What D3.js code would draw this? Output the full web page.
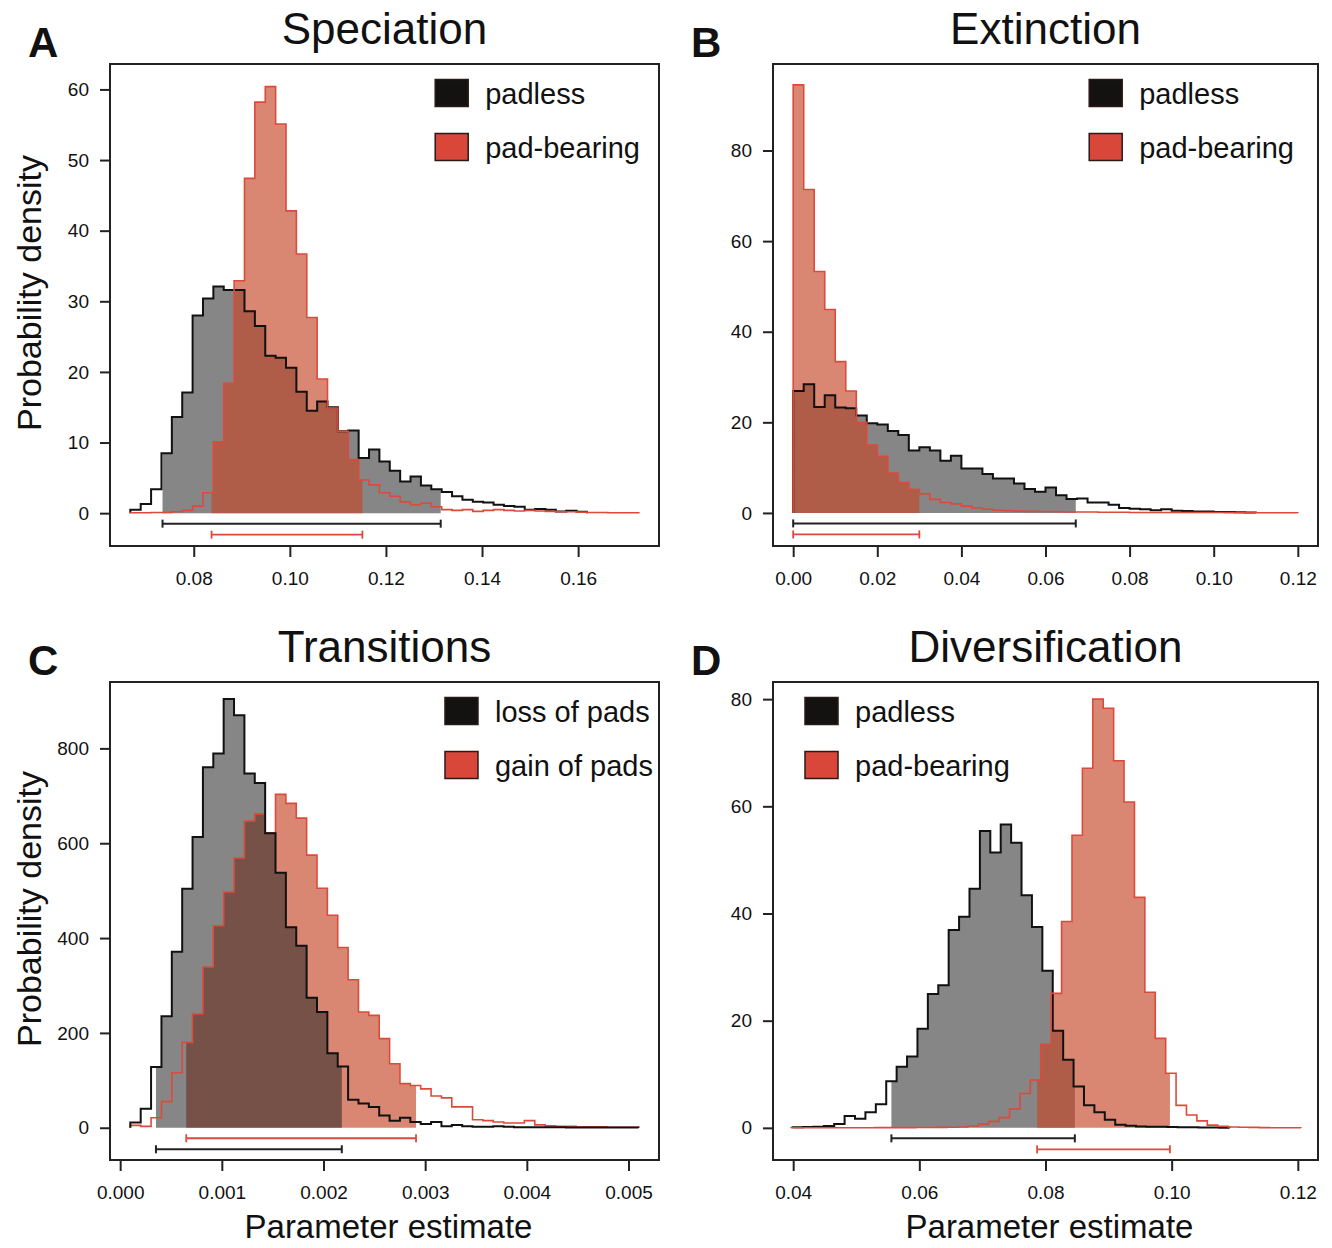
<!DOCTYPE html>
<html>
<head>
<meta charset="utf-8">
<script src="https://cdn.jsdelivr.net/npm/d3@7"></script>
<style>
  body { margin: 0; background: #fff; }
  text { font-family: "Liberation Sans", Arial, sans-serif; fill: #111; }
</style>
</head>
<body>
<svg width="1332" height="1248"></svg>
<script>
// ---- histogram heights (probability density per bin) ----
const specPadless = [0.5, 1.3, 3.4, 8.5, 13.6, 17.1, 28, 30.4, 32.1, 31.6, 31.6, 28.6, 26.5, 22.3, 22, 20.6, 17.2, 14.5, 15.8, 15, 11.6, 11.7, 7.8, 9, 7.3, 6, 4.5, 5.2, 3.9, 3.4, 3.0, 2.4, 1.9, 1.6, 1.5, 1.2, 1.0, 0.9, 0.5, 0.6, 0.5, 0.25, 0.35, 0.2];
const specPadBearing = [0.05, 0.05, 0.1, 0.1, 0.2, 0.4, 1.0, 2.9, 10.1, 18.4, 32.9, 47.4, 58.2, 60.4, 55.1, 42.8, 36.7, 27.7, 19.0, 14.9, 11.6, 7.6, 4.7, 4.0, 2.9, 2.4, 1.6, 1.2, 1.4, 0.9, 0.5, 0.4, 0.5, 0.25, 0.4, 0.5, 0.4, 0.3, 0.4, 0.3, 0.25, 0.2, 0.2, 0.15, 0.1, 0.1, 0.05, 0.05, 0.05];

const extPadless = [26.9, 28.4, 23.4, 26, 23.3, 23.1, 21.5, 19.8, 19.5, 18.1, 17.2, 13.8, 14.5, 13.8, 11.5, 12.6, 9.8, 9.8, 8.6, 7.6, 7.6, 6.5, 5.3, 4.7, 5.6, 3.9, 3.1, 3.2, 2.3, 2.3, 1.8, 1.1, 0.9, 0.8, 0.6, 0.8, 0.5, 0.4, 0.3, 0.3, 0.2, 0.2, 0.15, 0.1];
const extPadBearing = [94.5, 71.4, 53.3, 44.9, 33.4, 26.9, 20, 15, 12.5, 8.8, 6.7, 5.2, 4.2, 3.0, 2.3, 2.0, 1.5, 1.1, 0.8, 0.6, 0.5, 0.4, 0.35, 0.3, 0.3, 0.25, 0.2, 0.2, 0.2, 0.15, 0.15, 0.15, 0.1, 0.1, 0.1, 0.1, 0.1, 0.1, 0.08, 0.08, 0.08, 0.06, 0.06, 0.05, 0.05, 0.05, 0.04, 0.04];

const transLoss = [11, 40, 128, 235, 371, 504, 613, 760, 789, 904, 870, 747, 727, 621, 538, 423, 384, 274, 244, 157, 129, 59, 51, 44, 26, 15, 21, 12, 8, 12, 3, 6, 3, 2, 2, 3, 2, 1, 1, 1, 1, 1, 0.5, 0.5, 0.5, 0.5, 0.5, 0.5, 0.5];
const transGain = [5, 3, 21, 55, 116, 180, 240, 339, 426, 497, 569, 647, 662, 622, 703, 684, 653, 575, 505, 448, 380, 312, 244, 237, 188, 135, 93, 89, 82, 67, 63, 44, 44, 17, 15, 12, 10, 10, 15, 6, 4, 3, 3, 2, 2, 2, 1, 1, 1];

const divPadless = [0.1, 0.15, 0.2, 0.35, 0.7, 2.2, 1.7, 2.9, 4.4, 8.7, 11.4, 13.3, 18.5, 25, 26.6, 36.9, 39.4, 44.6, 55.4, 51.4, 56.6, 53.2, 43.4, 37.5, 29.3, 18.1, 12.7, 7.7, 4.2, 2.9, 1.5, 0.6, 0.4, 0.25, 0.2, 0.2, 0.15, 0.12, 0.1, 0.08, 0.05, 0.03];
const divPadBearing = [0.02, 0.02, 0.02, 0.02, 0.02, 0.03, 0.03, 0.03, 0.04, 0.04, 0.05, 0.05, 0.06, 0.07, 0.08, 0.1, 0.15, 0.35, 0.7, 1.2, 1.9, 3.5, 6.4, 8.9, 15.6, 25.1, 38.5, 54.6, 67.1, 80, 78.3, 68.5, 60.8, 43, 25.3, 16.7, 10.2, 4.2, 2.4, 1.3, 0.5, 0.3, 0.15, 0.1, 0.08, 0.05, 0.03, 0.02, 0.02];

// bin start / bin width of each histogram
const specBins = { padless: [0.0668, 0.00216], padBearing: [0.0668, 0.00216] };
const extBins = { padless: [0, 0.0025], padBearing: [0, 0.0025] };
const transBins = { loss: [0.0001, 0.000102], gain: [0.0001, 0.000102] };
const divBins = { padless: [0.0399, 0.00165], padBearing: [0.03965, 0.00165] };

// 95% HPD intervals
const specHPD = { padless: [0.0735, 0.1314], padBearing: [0.0837, 0.1151] };
const extHPD = { padless: [0, 0.0672], padBearing: [0, 0.0300] };
const transHPD = { loss: [0.000352, 0.00218], gain: [0.00065, 0.00291] };
const divHPD = { padless: [0.05557, 0.08465], padBearing: [0.07867, 0.09973] };

// axis ticks
const specXTicks = [0.08, 0.10, 0.12, 0.14, 0.16], specYTicks = [0, 10, 20, 30, 40, 50, 60];
const extXTicks = [0, 0.02, 0.04, 0.06, 0.08, 0.10, 0.12], extYTicks = [0, 20, 40, 60, 80];
const transXTicks = [0, 0.001, 0.002, 0.003, 0.004, 0.005], transYTicks = [0, 200, 400, 600, 800];
const divXTicks = [0.04, 0.06, 0.08, 0.10, 0.12], divYTicks = [0, 20, 40, 60, 80];

const titles = ["Speciation", "Extinction", "Transitions", "Diversification"];
const letters = ["A", "B", "C", "D"];
const legendStates = ["padless", "pad-bearing"];
const legendTransitions = ["loss of pads", "gain of pads"];

// ---- styling ----
const grayFill = "rgba(40,40,40,0.56)",
  redFill = "rgba(197,71,40,0.65)",
  blackLine = "#111",
  redLine = "#dd4a3c",
  swatch = ["#141111", "#d8473a"];

const svg = d3.select("svg");
svg.append("rect").attr("width", 1332).attr("height", 1248).attr("fill", "#fff");

const rowTop = { top: 64, bottom: 546 }, rowBot = { top: 682, bottom: 1160 };
const colLeft = { left: 110, right: 659 }, colRight = { left: 773, right: 1318 };

const series = (heights, bins, hpd, kind) => ({ heights, start: bins[0], width: bins[1], hpd, kind });

const panels = [
  {
    box: { ...colLeft, ...rowTop }, xRange: [0.0668, 0.1726], yDomain: [-4.65, 63.6],
    xTicks: specXTicks, yTicks: specYTicks, fmt: ".2f",
    s: [series(specPadless, specBins.padless, specHPD.padless, 0), series(specPadBearing, specBins.padBearing, specHPD.padBearing, 1)],
    legend: legendStates, legendSide: "right", legendInset: 19, fillOrder: [0, 1], barOrder: [0, 1], ylab: true, xlab: false
  },
  {
    box: { ...colRight, ...rowTop }, xRange: [0, 0.12], yDomain: [-7.3, 99.1],
    xTicks: extXTicks, yTicks: extYTicks, fmt: ".2f",
    s: [series(extPadless, extBins.padless, extHPD.padless, 0), series(extPadBearing, extBins.padBearing, extHPD.padBearing, 1)],
    legend: legendStates, legendSide: "right", legendInset: 24, fillOrder: [0, 1], barOrder: [0, 1], ylab: false, xlab: false
  },
  {
    box: { ...colLeft, ...rowBot }, xRange: [0.0001, 0.0051], yDomain: [-68, 940],
    xTicks: transXTicks, yTicks: transYTicks, fmt: ".3f",
    s: [series(transLoss, transBins.loss, transHPD.loss, 0), series(transGain, transBins.gain, transHPD.gain, 1)],
    legend: legendTransitions, legendSide: "right", legendInset: 6, fillOrder: [1, 0], barOrder: [1, 0], ylab: true, xlab: true
  },
  {
    box: { ...colRight, ...rowBot }, xRange: [0.04, 0.12], yDomain: [-6.0, 83.2],
    xTicks: divXTicks, yTicks: divYTicks, fmt: ".2f",
    s: [series(divPadless, divBins.padless, divHPD.padless, 0), series(divPadBearing, divBins.padBearing, divHPD.padBearing, 1)],
    legend: legendStates, legendSide: "left", legendInset: 32, fillOrder: [0, 1], barOrder: [0, 1], ylab: false, xlab: true
  }
];

const expand = r => { const d = (r[1] - r[0]) * 0.04; return [r[0] - d, r[1] + d]; };

function outlinePts(s) {
  const n = s.heights.length, end = s.start + n * s.width;
  const pts = [[s.start, 0]];
  s.heights.forEach((h, i) => pts.push([s.start + i * s.width, h]));
  pts.push([end, s.heights[n - 1]], [end, 0]);
  return pts;
}

function fillPts(s) {
  const [lo, hi] = s.hpd, n = s.heights.length;
  const hAt = v => s.heights[Math.max(0, Math.min(n - 1, Math.floor((v - s.start) / s.width)))];
  const pts = [[lo, hAt(lo)]];
  s.heights.forEach((h, i) => {
    const e = s.start + i * s.width;
    if (e > lo && e < hi) pts.push([e, h]);
  });
  pts.push([hi, hAt(hi - 1e-12)]);
  return pts;
}

panels.forEach((p, k) => {
  const b = p.box;
  const x = d3.scaleLinear().domain(expand(p.xRange)).range([b.left, b.right]);
  const y = d3.scaleLinear().domain(p.yDomain).range([b.bottom, b.top]);
  const g = svg.append("g");

  const area = d3.area().curve(d3.curveStepAfter)
    .x(d => x(d[0])).y0(y(0)).y1(d => y(d[1]));
  const line = d3.line().curve(d3.curveStepAfter)
    .x(d => x(d[0])).y(d => y(d[1]));

  p.fillOrder.forEach(i => {
    const s = p.s[i];
    g.append("path").attr("d", area(fillPts(s)))
      .attr("fill", s.kind === 0 ? grayFill : redFill);
  });

  p.fillOrder.forEach(i => {
    const s = p.s[i];
    g.append("path").attr("d", line(outlinePts(s)))
      .attr("fill", "none")
      .attr("stroke", s.kind === 0 ? blackLine : redLine)
      .attr("stroke-width", s.kind === 0 ? 2 : 1.6)
      .attr("stroke-linejoin", "miter");
  });

  // HPD bars under the histograms
  p.barOrder.forEach((i, j) => {
    const s = p.s[i], yy = y(0) + 10.5 + j * 11;
    const col = s.kind === 0 ? "#222" : redLine;
    const bar = g.append("g").attr("stroke", col).attr("stroke-width", s.kind === 0 ? 2 : 1.8);
    bar.append("line").attr("x1", x(s.hpd[0])).attr("x2", x(s.hpd[1])).attr("y1", yy).attr("y2", yy);
    s.hpd.forEach(v => bar.append("line").attr("x1", x(v)).attr("x2", x(v)).attr("y1", yy - 4).attr("y2", yy + 4));
  });

  // frame
  g.append("rect").attr("x", b.left).attr("y", b.top)
    .attr("width", b.right - b.left).attr("height", b.bottom - b.top)
    .attr("fill", "none").attr("stroke", "#222").attr("stroke-width", 2);

  // axes
  const ya = g.append("g").attr("transform", `translate(${b.left},0)`)
    .call(d3.axisLeft(y).tickValues(p.yTicks).tickSize(10).tickPadding(11).tickFormat(d3.format("d")));
  const xa = g.append("g").attr("transform", `translate(0,${b.bottom})`)
    .call(d3.axisBottom(x).tickValues(p.xTicks).tickSize(11).tickPadding(15).tickFormat(d3.format(p.fmt)));
  [ya, xa].forEach(a => {
    a.select(".domain").remove();
    a.selectAll("line").attr("stroke", "#222").attr("stroke-width", 2);
    a.selectAll("text").attr("font-size", 19).attr("fill", "#222")
      .style("font-family", '"Liberation Sans", Arial, sans-serif');
  });

  const cx = (b.left + b.right) / 2;
  g.append("text").attr("x", cx).attr("y", b.top - 20)
    .attr("text-anchor", "middle").attr("font-size", 44).text(titles[k]);
  g.append("text").attr("x", b.left - 82).attr("y", b.top - 7)
    .attr("font-size", 42).attr("font-weight", "bold").text(letters[k]);

  if (p.ylab) {
    g.append("text")
      .attr("transform", `translate(41,${(b.top + b.bottom) / 2 - 12}) rotate(-90)`)
      .attr("text-anchor", "middle").attr("font-size", 34).text("Probability density");
  }
  if (p.xlab) {
    g.append("text").attr("x", cx + 4).attr("y", 1238)
      .attr("text-anchor", "middle").attr("font-size", 33).text("Parameter estimate");
  }

  // legend
  const lg = g.append("g");
  const labels = lg.selectAll("text").data(p.legend).enter().append("text")
    .attr("font-size", 29).text(d => d);
  const maxW = d3.max(labels.nodes(), n => n.getComputedTextLength());
  const sqX = p.legendSide === "right" ? b.right - p.legendInset - maxW - 50 : b.left + p.legendInset;
  const rowY = i => b.top + 29 + i * 54;
  labels.attr("x", sqX + 50).attr("y", (d, i) => rowY(i) + 10.5);
  lg.selectAll("rect").data(p.legend).enter().append("rect")
    .attr("x", sqX).attr("y", (d, i) => rowY(i) - 13.5)
    .attr("width", 33).attr("height", 27)
    .attr("fill", (d, i) => swatch[i]).attr("stroke", "#2a1a18").attr("stroke-width", 1.5);
});
</script>
</body>
</html>
